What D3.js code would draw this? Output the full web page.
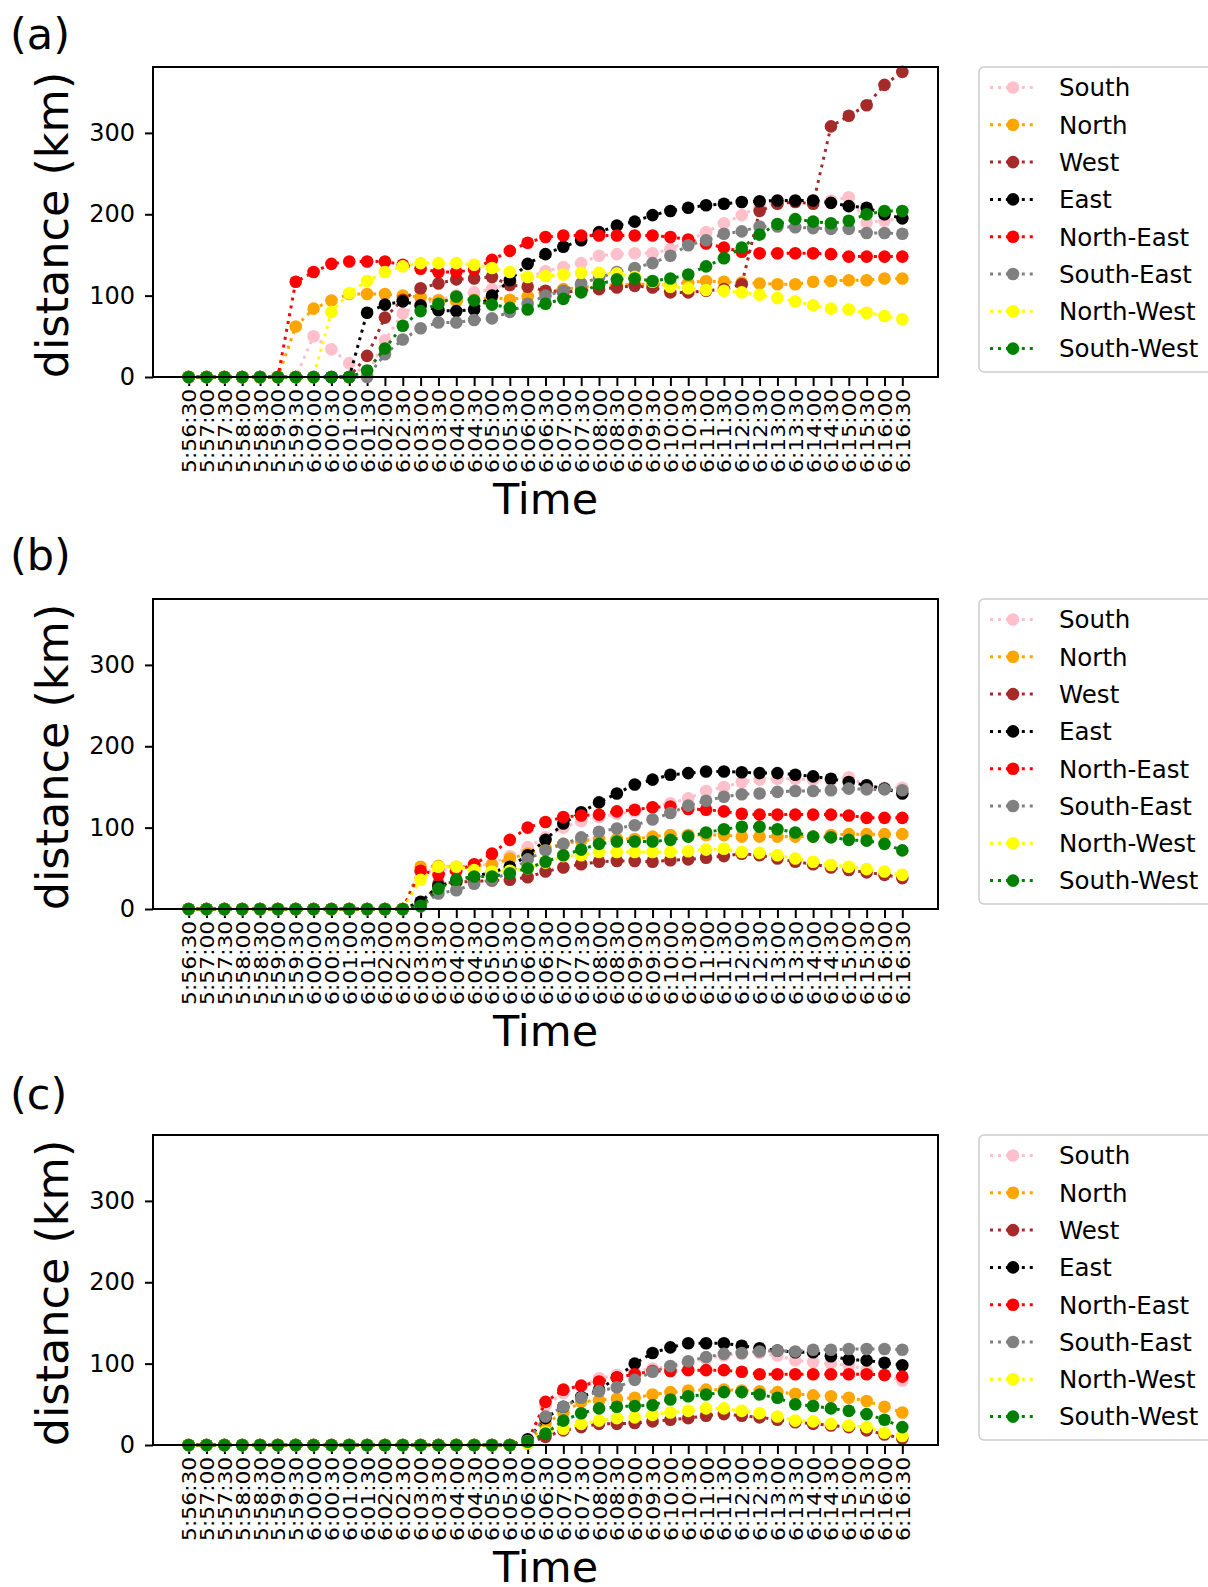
<!DOCTYPE html>
<html>
<head>
<meta charset="utf-8">
<script src="https://cdn.jsdelivr.net/npm/d3@7"></script>
<style>
  body { margin: 0; background: #fff; }
  text { font-family: "DejaVu Sans", sans-serif; fill: #000; }
</style>
</head>
<body>
<div id="app"></div>
<script>
// tick labels (one every 30 s)
const times = [
  "5:56:30", "5:57:00", "5:57:30", "5:58:00", "5:58:30", "5:59:00", "5:59:30",
  "6:00:00", "6:00:30", "6:01:00", "6:01:30", "6:02:00", "6:02:30", "6:03:00",
  "6:03:30", "6:04:00", "6:04:30", "6:05:00", "6:05:30", "6:06:00", "6:06:30",
  "6:07:00", "6:07:30", "6:08:00", "6:08:30", "6:09:00", "6:09:30", "6:10:00",
  "6:10:30", "6:11:00", "6:11:30", "6:12:00", "6:12:30", "6:13:00", "6:13:30",
  "6:14:00", "6:14:30", "6:15:00", "6:15:30", "6:16:00", "6:16:30"
];
const directions = ["South", "North", "West", "East", "North-East", "South-East", "North-West", "South-West"];
const colors = ["pink", "orange", "brown", "black", "red", "gray", "yellow", "green"];
const yTicks = [0, 100, 200, 300];
const panelLabels = ["(a)", "(b)", "(c)"];

// panel (a)
const southA = [0,0,0,0,0,0,0,50,34,17,2,45,78,90,95,100,104,108,115,122,130,135,140,149,151,152,152,157,168,178,189,199,210,215,216,217,217,221,190,192,196];
const northA = [0,0,0,0,0,0,62,84,94,102,102,102,100,98,94,93,95,98,95,99,105,108,110,112,113,114,114,114,116,118,117,116,115,114,114,117,118,119,119,121,121];
const westA = [0,0,0,0,0,0,0,0,0,0,26,73,95,109,115,120,121,123,113,111,106,104,106,108,110,112,110,104,104,106,108,114,204,213,215,213,308,321,334,359,375];
const eastA = [0,0,0,0,0,0,0,0,0,0,79,89,93,88,82,81,83,100,119,139,151,160,168,178,186,191,199,204,208,211,213,215,216,217,217,217,214,210,208,200,195];
const northEastA = [0,0,0,0,0,0,117,129,139,142,142,142,138,133,129,129,132,144,155,165,172,174,174,174,174,174,174,172,169,164,159,154,152,152,152,152,151,148,148,148,148];
const southEastA = [0,0,0,0,0,0,0,0,0,0,0,28,46,60,67,67,70,72,80,90,100,106,115,122,129,134,140,149,162,168,176,179,185,185,184,183,182,182,177,177,176];
const northWestA = [0,0,0,0,0,0,0,0,80,103,118,129,136,140,140,140,138,134,129,123,124,126,128,128,127,123,117,111,109,107,106,104,101,97,93,88,84,83,79,75,71];
const southWestA = [0,0,0,0,0,0,0,0,0,0,8,35,63,81,90,99,94,89,85,83,90,96,104,114,120,121,118,121,126,136,146,159,175,188,194,191,189,192,200,204,204];

// panel (b)
const southB = [0,0,0,0,0,0,0,0,0,0,0,0,0,45,48,50,52,56,65,76,88,100,108,113,117,120,125,130,136,145,150,156,159,160,160,159,158,162,152,149,149];
const northB = [0,0,0,0,0,0,0,0,0,0,0,0,0,52,53,52,53,54,62,68,75,80,84,86,86,86,89,91,91,91,91,89,89,89,89,89,91,92,92,92,92];
const westB = [0,0,0,0,0,0,0,0,0,0,0,0,0,5,31,33,34,35,36,39,46,51,55,58,59,59,58,60,61,63,65,68,66,62,58,55,51,48,45,42,38];
const eastB = [0,0,0,0,0,0,0,0,0,0,0,0,0,9,28,35,40,45,52,66,85,105,119,131,142,153,159,165,167,169,169,168,167,167,165,163,160,156,152,148,142];
const northEastB = [0,0,0,0,0,0,0,0,0,0,0,0,0,47,42,47,55,68,85,100,107,113,115,116,120,122,125,126,123,122,120,117,116,116,116,116,116,115,112,112,112];
const southEastB = [0,0,0,0,0,0,0,0,0,0,0,0,0,3,19,23,31,36,45,61,72,80,88,95,99,103,110,118,127,133,138,141,142,144,145,145,146,148,147,147,146];
const northWestB = [0,0,0,0,0,0,0,0,0,0,0,0,0,36,52,52,48,46,47,50,57,65,66,70,70,70,70,70,71,73,74,70,69,66,62,58,54,52,49,46,42];
const southWestB = [0,0,0,0,0,0,0,0,0,0,0,0,0,4,25,36,40,40,44,50,58,66,73,80,83,83,83,85,89,94,98,101,101,98,94,89,88,85,84,80,72];

// panel (c)
const southC = [0,0,0,0,0,0,0,0,0,0,0,0,0,0,0,0,0,0,0,5,48,64,72,82,86,90,94,96,100,106,110,112,113,110,104,102,100,98,92,86,79];
const northC = [0,0,0,0,0,0,0,0,0,0,0,0,0,0,0,0,0,0,0,3,26,40,53,55,57,58,62,65,67,68,68,67,66,65,63,61,60,58,54,47,40];
const westC = [0,0,0,0,0,0,0,0,0,0,0,0,0,0,0,0,0,0,0,2,10,18,22,26,26,27,29,31,33,36,38,36,34,31,28,26,24,22,18,13,8];
const eastC = [0,0,0,0,0,0,0,0,0,0,0,0,0,0,0,0,0,0,0,7,33,47,59,68,83,100,113,120,125,125,125,122,119,116,114,114,109,105,104,101,98];
const northEastC = [0,0,0,0,0,0,0,0,0,0,0,0,0,0,0,0,0,0,0,4,53,68,73,78,83,87,91,91,92,92,92,90,87,87,87,87,87,87,87,86,84];
const southEastC = [0,0,0,0,0,0,0,0,0,0,0,0,0,0,0,0,0,0,0,5,35,47,58,66,71,80,90,97,103,108,112,113,115,116,115,117,117,118,118,118,117];
const northWestC = [0,0,0,0,0,0,0,0,0,0,0,0,0,0,0,0,0,0,0,2,16,20,26,30,33,34,37,40,42,45,45,42,39,35,30,29,26,24,22,15,11];
const southWestC = [0,0,0,0,0,0,0,0,0,0,0,0,0,0,0,0,0,0,0,4,14,30,39,45,47,48,49,56,60,62,65,65,62,58,50,48,45,42,38,31,22];

const panels = [
  [southA, northA, westA, eastA, northEastA, southEastA, northWestA, southWestA],
  [southB, northB, westB, eastB, northEastB, southEastB, northWestB, southWestB],
  [southC, northC, westC, eastC, northEastC, southEastC, northWestC, southWestC]
];

const chart = () => {
  const width = 1208;
  const height = 1587;
  const marginLeft = 153;
  const plotRight = 938;
  const plotHeight = 310;
  const tops = [67, 599, 1135];
  const labelY = [49, 570, 1109];

  const svg = d3.create("svg").attr("width", width).attr("height", height)
    .style("background", "#fff");

  const x = d3.scaleLinear().domain([-2, 42]).range([marginLeft, plotRight]);

  panels.forEach((series, p) => {
    const top = tops[p];
    const bottom = top + plotHeight;
    const y = d3.scaleLinear().domain([0, 381]).range([bottom, top]);
    const g = svg.append("g");

    // y axis
    const ya = g.append("g")
      .attr("transform", `translate(${marginLeft},0)`)
      .call(d3.axisLeft(y).tickValues(yTicks).tickSize(8).tickPadding(10));
    ya.select(".domain").remove();
    ya.selectAll("line").attr("stroke", "#000").attr("stroke-width", 2);
    ya.selectAll("text").style("font-size", "24px").attr("font-family", "DejaVu Sans").attr("fill", "#000");

    // x axis with rotated labels
    const xa = g.append("g")
      .attr("transform", `translate(0,${bottom})`)
      .call(d3.axisBottom(x).tickValues(d3.range(times.length)).tickFormat((i) => times[i]).tickSize(9));
    xa.select(".domain").remove();
    xa.selectAll("line").attr("stroke", "#000").attr("stroke-width", 2);
    xa.selectAll("text")
      .style("font-size", "19.5px")
      .attr("font-family", "DejaVu Sans")
      .attr("fill", "#000")
      .attr("transform", "rotate(-90) scale(1.12,1)")
      .attr("x", -10.5)
      .attr("y", 0)
      .attr("dy", "0.36em")
      .style("text-anchor", "end");

    // series
    const line = d3.line().x((d, i) => x(i)).y((d) => y(d));
    series.forEach((vals, s) => {
      const sg = g.append("g");
      sg.append("path")
        .attr("d", line(vals))
        .attr("fill", "none")
        .attr("stroke", colors[s])
        .attr("stroke-width", 3)
        .attr("stroke-dasharray", "3,4.95");
      sg.selectAll("circle")
        .data(vals)
        .join("circle")
        .attr("cx", (d, i) => x(i))
        .attr("cy", (d) => y(d))
        .attr("r", 6.3)
        .attr("fill", colors[s]);
    });

    // frame
    g.append("rect")
      .attr("x", marginLeft)
      .attr("y", top)
      .attr("width", plotRight - marginLeft)
      .attr("height", plotHeight)
      .attr("fill", "none")
      .attr("stroke", "#000")
      .attr("stroke-width", 2);

    // labels
    g.append("text")
      .text("distance (km)")
      .attr("transform", `translate(68,${top + plotHeight / 2 + 3}) rotate(-90)`)
      .attr("text-anchor", "middle")
      .style("font-size", "44.5px");

    g.append("text")
      .text("Time")
      .attr("x", (marginLeft + plotRight) / 2)
      .attr("y", bottom + 137)
      .attr("text-anchor", "middle")
      .style("font-size", "43px");

    g.append("text")
      .text(panelLabels[p])
      .attr("x", 10)
      .attr("y", labelY[p])
      .style("font-size", "43px");

    // legend
    const lg = g.append("g").attr("transform", `translate(979,${top})`);
    lg.append("rect")
      .attr("x", 0).attr("y", 0)
      .attr("width", 240).attr("height", 305)
      .attr("rx", 5)
      .attr("fill", "#fff")
      .attr("stroke", "#cccccc")
      .attr("stroke-width", 1.5);
    directions.forEach((name, s) => {
      const cy = 20.5 + 37.3 * s;
      lg.append("line")
        .attr("x1", 11).attr("x2", 58)
        .attr("y1", cy).attr("y2", cy)
        .attr("stroke", colors[s])
        .attr("stroke-width", 3)
        .attr("stroke-dasharray", "3,4.95");
      lg.append("circle").attr("cx", 34).attr("cy", cy).attr("r", 6.3).attr("fill", colors[s]);
      lg.append("text")
        .text(name)
        .attr("x", 80)
        .attr("y", cy)
        .attr("dy", "0.36em")
        .style("font-size", "24.5px");
    });
  });

  return svg.node();
};

d3.select("#app").append(chart);
</script>
</body>
</html>
